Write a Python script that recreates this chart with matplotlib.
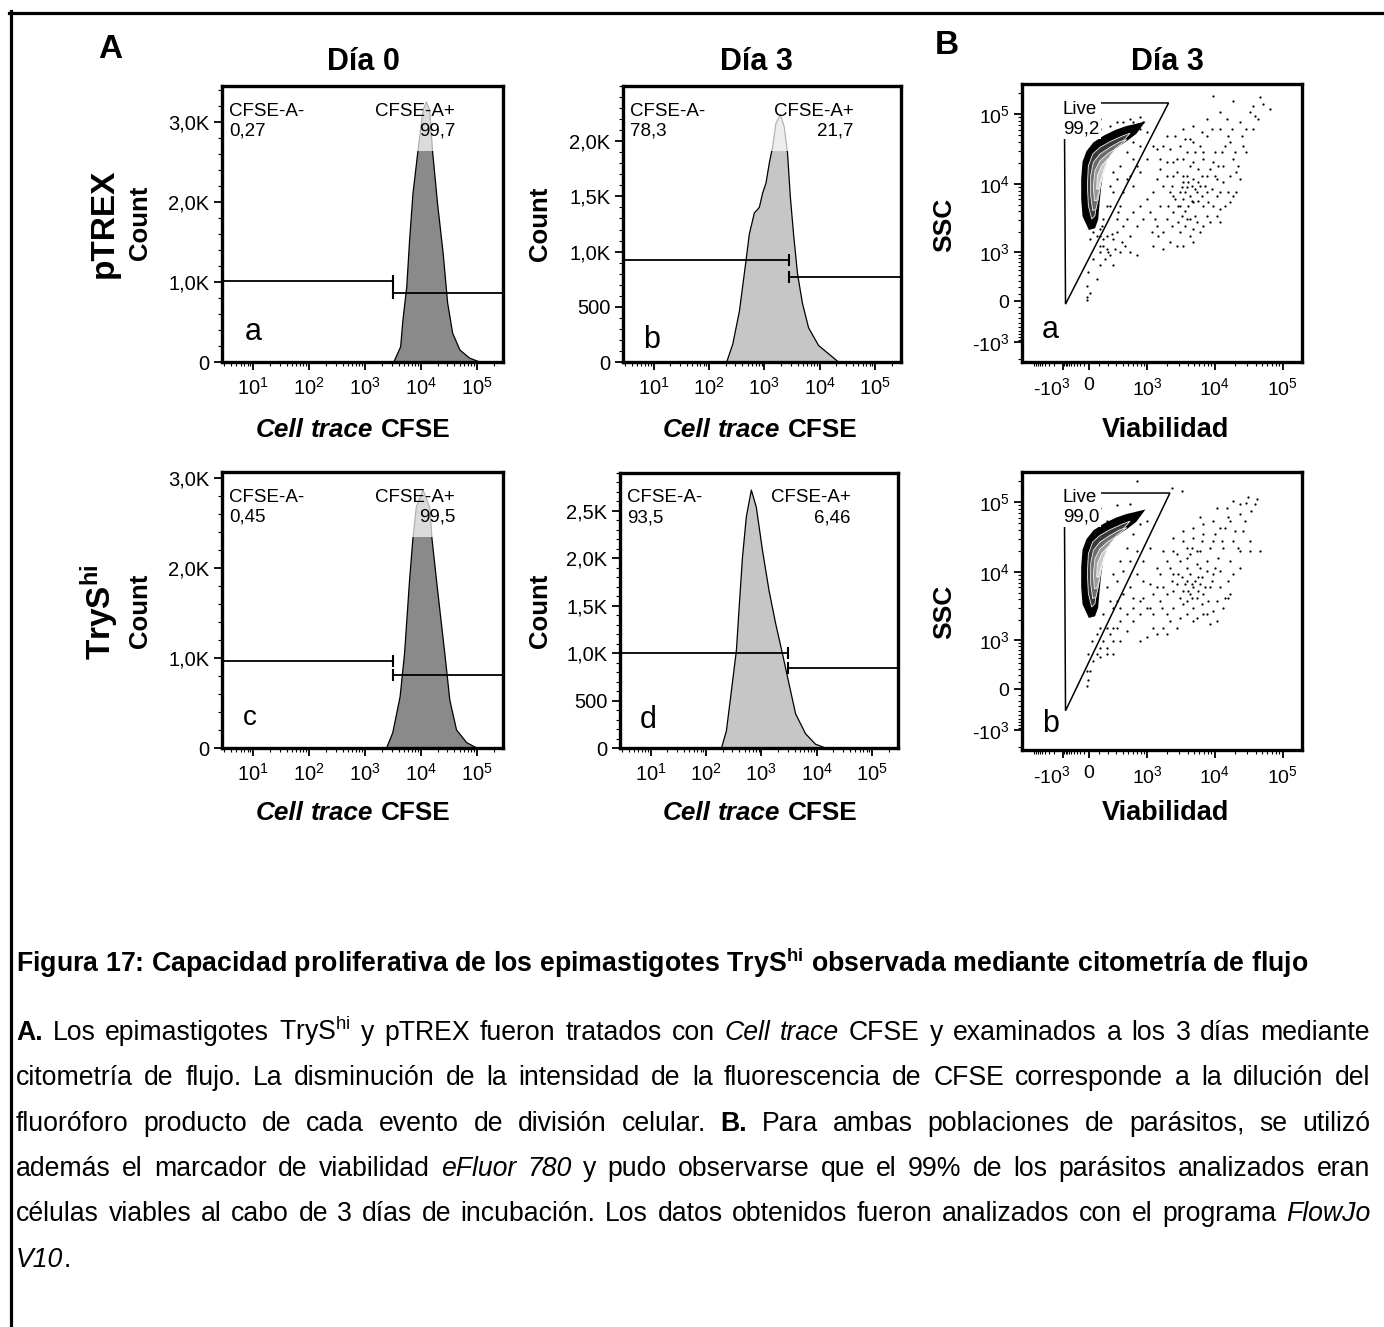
import re
import numpy as np
import matplotlib
matplotlib.use("Agg")
import matplotlib.pyplot as plt
import matplotlib.transforms as mtransforms
from matplotlib.patches import Rectangle, Polygon
from matplotlib.lines import Line2D
from matplotlib.ticker import FixedLocator, NullFormatter, LogLocator, MultipleLocator

plt.rcParams['font.family'] = ['Liberation Sans', 'DejaVu Sans']
plt.rcParams['mathtext.fontset'] = 'custom'
plt.rcParams['mathtext.rm'] = 'Liberation Sans'
plt.rcParams['mathtext.it'] = 'Liberation Sans:italic'
plt.rcParams['mathtext.bf'] = 'Liberation Sans:bold'

# ======================= DATA =======================
HIST_XLIM = (2.8, 2.95e5)
HIST_XTICKS = [1e1, 1e2, 1e3, 1e4, 1e5]
HIST_XTICKLABELS = [r'$10^{1}$', r'$10^{2}$', r'$10^{3}$', r'$10^{4}$', r'$10^{5}$']

# panel a: pTREX dia 0
cfse_a = [3300, 4370, 4790, 5620, 6310, 7240, 8910, 10960, 12590, 14450, 16220,
          19950, 25120, 30200, 37150, 50120, 74130, 112200]
count_a = [0, 190, 520, 940, 1520, 2100, 2640, 3150, 3250, 3150, 2640,
           1980, 1360, 740, 360, 150, 50, 0]
# panel b: pTREX dia 3
cfse_b = [209, 269, 355, 468, 537, 661, 813, 933, 1072, 1230, 1413, 1622, 1950,
          2291, 2630, 2950, 3390, 3981, 4898, 6310, 9550, 16600, 21880]
count_b = [0, 160, 460, 920, 1160, 1350, 1400, 1530, 1620, 1800, 1950, 2160, 2240,
           2130, 1890, 1500, 1150, 800, 530, 310, 150, 50, 0]
# panel c: TrySh dia 0
cfse_c = [2450, 3160, 4270, 5130, 6310, 7240, 8320, 10960, 14450, 15850, 19950,
          26920, 33110, 43650, 66070, 100000]
count_c = [0, 170, 570, 1050, 1870, 2330, 2680, 2870, 2680, 2330, 1760,
           1050, 530, 200, 60, 0]
# panel d: TrySh dia 3
cfse_d = [191, 234, 288, 355, 398, 457, 537, 661, 813, 1047, 1380, 1820, 2400,
          3160, 4170, 6310, 9550, 14450]
count_d = [0, 180, 600, 1030, 1480, 2010, 2440, 2720, 2540, 2090, 1660, 1310, 1000,
           680, 360, 150, 40, 0]

# gates: boundary, height of CFSE-A- gate, height of CFSE-A+ gate
gate_a = (3160, 1010, 860)
gate_b = (2820, 920, 770)
gate_c = (3160, 970, 810)
gate_d = (3020, 1000, 840)

pct_a = ("0,27", "99,7")
pct_b = ("78,3", "21,7")
pct_c = ("0,45", "99,5")
pct_d = ("93,5", "6,46")

yticks_a = [0, 1000, 2000, 3000]; ylab_a = ['0', '1,0K', '2,0K', '3,0K']
yticks_b = [0, 500, 1000, 1500, 2000]; ylab_b = ['0', '500', '1,0K', '1,5K', '2,0K']
yticks_d = [0, 500, 1000, 1500, 2000, 2500]; ylab_d = ['0', '500', '1,0K', '1,5K', '2,0K', '2,5K']

SC_XTICKS = [-1e3, 0, 1e3, 1e4, 1e5]
SC_XTICKLABELS = [r'-$10^{3}$', '0', r'$10^{3}$', r'$10^{4}$', r'$10^{5}$']
SC_YTICKS = [-1e3, 0, 1e3, 1e4, 1e5]
SC_YTICKLABELS = [r'-$10^{3}$', '0', r'$10^{3}$', r'$10^{4}$', r'$10^{5}$']

# density contour levels of the live population (viability, SSC)
lev0_x = [10, -95, -125, -125, -95, -14, 58, 163, 308, 472, 640, 778, 640, 472, 330, 230, 163, 119, 99, 82, 68, 42]
lev0_y = [2350, 3470, 6050, 11700, 20400, 28400, 37400, 46500, 56000, 63000, 67000, 70000, 55100, 45000, 37400, 30500, 21500, 14600, 9400, 5400, 3100, 2420]
lev1_x = [26, -14, -36, -14, 36, 109, 221, 385, 538, 413, 263, 174, 119, 92, 75, 58]
lev1_y = [3100, 4840, 9400, 18200, 26900, 33500, 40500, 48300, 53500, 41800, 33500, 24100, 15500, 9400, 5400, 3470]
lev2_x = [36, 16, 16, 42, 109, 221, 359, 472, 308, 213, 152, 119, 92, 68]
lev2_y = [4100, 6750, 13100, 20400, 26900, 33500, 40500, 43200, 33500, 25400, 17300, 10500, 6050, 4330]
lev3_x = [52, 42, 58, 109, 201, 308, 221, 163, 126, 99, 75]
lev3_y = [5720, 9400, 15500, 21500, 27500, 32400, 25400, 18200, 11700, 7560, 5720]
lev4_x = [75, 82, 126, 201, 152, 116, 92]
lev4_y = [8400, 13100, 18200, 23300, 16350, 11100, 8400]

# outlier events, panel B-a
dots_a_x = [3100, 3460, 3870, 4340, 4860, 3660, 4590, 5440, 4100, 3270, 5760, 4860, 3870, 6100, 4340, 2930, 5140, 6440, 3460, 5440,
            1570, 1970, 1760, 2200, 2480, 1970, 2770, 3870, 4860, 6820, 8540, 10700, 12000, 9560, 7640, 6100, 4340, 3100, 2480, 1400,
            1250, 1760, 2770, 7640, 10100, 13400, 16800, 15900, 14200, 10700, 6100, 4340, 3100, 2200, 1570, 1400, 1250, 1970, 2770, 7640,
            12000, 16800, 18800,
            9560, 18800, 33000, 36900, 46200, 65000, 23500, 29400, 15000, 7640, 4860, 26300, 21000, 12000, 18800, 3460, 1970, 1400,
            109, 145, 182, 221, 163, 263, 308, 359, 413, 472, 609, 778, 990, 538, 690, 878, 1120, 182, 109, 75,
            10, -50, -14, 42, 263, 359, 609, 778, 990, 1250, 109, 126, 538, 690, 308, 472, 609, 778, 990, 609,
            413, 221, 109,
            2340, 2620, 3270, 3660, 4100, 4590, 5140, 5760, 6440, 7230, 8080, 9050, 10100, 11300, 12700, 14200, 15900, 17800, 19900, 22300,
            24900, 29400, 36900, 43700, 52100, 39000, 12000, 9050, 6440, 4860, 3660, 2620, 1760, 1570, 1760, 2080, 2340, 2930, 3660, 4860,
            6820, 8540, 12000, 16800, 21000, 23500, 13400, 10700, 6820, 3870, 3100, 2480, 3460, 4340, 5760, 7640, 9560, 6820, 5140, 3460,
            2480, 1320, 1480, 1180, 2200, 3460, 4860,
            182, 145, 109, 75, 42, 10, 263, 308, 359, 472, 609, 778, 878, 263, 221, 413, 538, 690, 221, 335,
            109, 201, 285, 385, 440, 145, 240, -50, -36, 109, 308, 538, 778]
dots_a_y = [7560, 6050, 8900, 6750, 5400, 4100, 9400, 7560, 4840, 3470, 5720, 11700, 13100, 9400, 3100, 4840, 3470, 13100, 10500, 2780,
            4840, 3100, 1980, 7560, 13100, 20400, 22800, 28400, 20400, 22800, 16350, 11700, 7560, 4840, 3470, 1980, 1770, 1980, 3880, 2480,
            1257, 1120, 1257, 7560, 28400, 18200, 13100, 7560, 4840, 3470, 35400, 44200, 35400, 31700, 22800, 11700, 7560, 13100, 14600, 49300,
            61500, 39500, 22800,
            185000, 157000, 107000, 133000, 175000, 119000, 76700, 61500, 85600, 85600, 68600, 35400, 14600, 2780, 6750, 61500, 49300, 31700,
            1000, 1257, 1120, 890, 780, 1580, 1980, 1000, 2480, 3100, 3880, 4840, 6050, 1770, 2480, 3100, 3880, 1770, 605, 328,
            110, 10, 455, 780, 605, 4840, 9400, 14600, 22800, 35400, 1770, 2480, 1000, 890, 3100, 11700, 22800, 35400, 55100, 76700,
            76700, 68600, 61500,
            9400, 6050, 8900, 7560, 10500, 5720, 8400, 10500, 6750, 9400, 5400, 8400, 13100, 18200, 28400, 35400, 49300, 61500, 28400, 18200,
            49300, 28400, 61500, 85600, 140000, 96000, 107000, 61500, 55100, 39500, 44200, 49300, 35400, 16350, 9400, 4840, 2480, 2780, 2480, 2220,
            2480, 2780, 4330, 5400, 7560, 11700, 10500, 6750, 4840, 3100, 4840, 6750, 13100, 18200, 16350, 13100, 20400, 28400, 28400, 22800,
            20400, 3100, 1770, 1980, 1410, 1257, 1410,
            4840, 3100, 2220, 1770, 1980, 1580, 7560, 11700, 18200, 28400, 39500, 61500, 76700, 14600, 9400, 7560, 13100, 18200, 4840, 3880,
            1257, 1000, 1120, 1410, 1257, 1580, 1870, 218, 50, 85600, 76700, 85600, 90000]
# outlier events, panel B-b
dots_b_x = [2770, 3460, 3870, 4340, 4860, 3100, 5440, 6100, 4340, 3460, 4860, 6820, 2480, 3870, 5760, 3270, 4590, 6440,
            1570, 1250, 1970, 1760, 2200, 2770, 3870, 5440, 7640, 9560, 12000, 10700, 7640, 4860, 3100, 2480, 1400, 990, 1760, 878,
            1120, 1400, 1760, 2480, 3460, 4860, 6820, 9560, 13400, 16800, 15900, 14200, 9560, 6100, 8540, 2480, 1970, 3870,
            10700, 18800, 29400, 41400, 23500, 16800, 12000, 26300, 33000, 23500, 6100, 18800, 15900, 8540, 690, 2350, 3270,
            -36, -30, 10, 42, 75, 109, 145, 182, 221, 263, 308, 359, 472, 609, 778, 182, 109, 263, 359, 472,
            609, 778, 990, 538, 690, 878, 1120, 990, 609, 359, 182, 109, 308, 413,
            2340, 2930, 3660, 4100, 4590, 5140, 5760, 6440, 7230, 8080, 9050, 10100, 11300, 12700, 14200, 15900, 19900, 22300, 27800, 34900,
            39000, 31100, 23500, 15000, 9560, 6820, 4860, 3460, 2480, 1970, 1570, 1400, 1660, 2200, 2770, 3870, 5440, 6820, 10700, 13400,
            16800, 18800, 23500, 33000, 46200, 12000, 7640, 5440, 3870, 3100, 4340, 6100, 8540, 10100, 6440, 4590, 1250, 1120, 1250, 1970, 778,
            182, 263, 359, 472, 609, 778, 221, 145, 109, 75, 26, -14, -50, 308, 413, 538, 690, 263, 359, 182,
            263, 609, 878, 109, 308, 538]
dots_b_y = [6600, 5300, 7400, 4740, 5950, 4250, 4250, 6600, 9200, 3400, 3040, 4740, 5300, 3800, 8300, 8300, 6600, 3400,
            3800, 2420, 2420, 5950, 11500, 17900, 22300, 20000, 14300, 9200, 5950, 3800, 2420, 1940, 2170, 3040, 1230, 1100, 1550, 4250,
            6600, 11500, 20000, 31000, 38700, 43300, 34700, 27800, 22300, 14300, 7400, 4250, 2720, 11500, 5950, 9200, 4740, 16000,
            84000, 105000, 99000, 113000, 67000, 54000, 43300, 38700, 27800, 20000, 60500, 27800, 4250, 1740, 200000, 160000, 146000,
            40, 120, 260, 440, 590, 760, 980, 760, 1230, 980, 1550, 1940, 2420, 3040, 3800, 590, 520, 590, 980, 1390,
            1940, 2420, 3040, 5950, 9200, 14300, 22300, 54000, 60500, 54000, 54000, 43300, 3800, 4740,
            7400, 9200, 6600, 5300, 4250, 7400, 5300, 8300, 5950, 3800, 7400, 11500, 16000, 27800, 43300, 60500, 38700, 22300, 54000, 75000,
            94000, 119000, 94000, 84000, 54000, 48300, 31000, 27800, 20000, 14300, 9200, 5950, 3040, 1940, 1550, 2420, 2170, 2420, 1940, 3040,
            4740, 9200, 11500, 20000, 20000, 10300, 10300, 12800, 11500, 14300, 17900, 20000, 22300, 34700, 27800, 22300, 4740, 3040, 1550, 1230, 980,
            5950, 9200, 14300, 22300, 34700, 48300, 3800, 2420, 1550, 1230, 980, 590, 260, 7400, 10300, 14300, 20000, 3040, 3040, 1550,
            1550, 4250, 7400, 84000, 90000, 94000]

live_gate_a_x = [-820, -900, 2100]
live_gate_a_y = [-50, 145600, 145600]
live_gate_b_x = [-820, -900, 2200]
live_gate_b_y = [-400, 136000, 136000]
live_pct = ("99,2", "99,0")

CAPTION_TITLE = r"Figura 17: Capacidad proliferativa de los epimastigotes TryS$^{\mathbf{hi}}$ observada mediante citometría de flujo"
CAPTION_LINES = [
    r"**A.** Los epimastigotes TryS$^{\mathrm{hi}}$ y pTREX fueron tratados con *Cell* *trace* CFSE y examinados a los 3 días mediante",
    "citometría de flujo. La disminución de la intensidad de la fluorescencia de CFSE corresponde a la dilución del",
    "fluoróforo producto de cada evento de división celular. **B.** Para ambas poblaciones de parásitos, se utilizó",
    "además el marcador de viabilidad *eFluor* *780* y pudo observarse que el 99% de los parásitos analizados eran",
    "células viables al cabo de 3 días de incubación. Los datos obtenidos fueron analizados con el programa *FlowJo*",
    "*V10*.",
]

# ======================= FIGURE =======================
W, H = 1384, 1327
fig = plt.figure(figsize=(W / 100, H / 100), dpi=100)
renderer = fig.canvas.get_renderer()


def frect(x0, y0, x1, y1):
    return [x0 / W, 1 - y1 / H, (x1 - x0) / W, (y1 - y0) / H]


def style_kw(st):
    return {'n': dict(fontweight='normal', fontstyle='normal'),
            'b': dict(fontweight='bold', fontstyle='normal'),
            'i': dict(fontweight='normal', fontstyle='italic'),
            'bi': dict(fontweight='bold', fontstyle='italic')}[st]


def measure(text, size, st):
    t = fig.text(0, 0, text, fontsize=size, **style_kw(st))
    w = t.get_window_extent(renderer).width
    t.remove()
    return w


def space_width(size, st):
    return measure("a a", size, st) - measure("aa", size, st)


def put(x_px, y_px, text, size, st, **kw):
    return fig.text(x_px / W, 1 - y_px / H, text, fontsize=size, va='baseline', ha='left',
                    **style_kw(st), **kw)


def rich_centered(xc, yb, words, size):
    ws = [measure(t, size, s) for t, s in words]
    sp = space_width(size, 'b')
    total = sum(ws) + sp * (len(words) - 1)
    x = xc - total / 2
    for (t, s), w in zip(words, ws):
        put(x, yb, t, size, s)
        x += w + sp


def style_axes(ax, lsize=14.5):
    for s in ax.spines.values():
        s.set_linewidth(2.4)
        s.set_zorder(10)
    ax.tick_params(which='major', direction='out', length=6, width=1.3, labelsize=lsize, pad=3)
    ax.tick_params(which='minor', direction='out', length=3, width=0.8)


def hist_panel(r, cfse, counts, fill, ymax, yticks, ylabels, yminor, gate, pct, letter, lpos, overlay, lsize=22):
    ax = fig.add_axes(frect(*r))
    ax.set_xscale('log')
    ax.set_xlim(HIST_XLIM)
    ax.set_ylim(0, ymax)
    ax.fill_between(cfse, counts, 0, facecolor=fill, lw=0, zorder=2)
    ax.plot(cfse, counts, color='black', lw=0.9, zorder=2.5)
    x0, x1 = ax.get_xlim()
    gx, gneg, gpos = gate
    ax.plot([x0, gx], [gneg, gneg], color='k', lw=1.3, zorder=4, solid_capstyle='butt')
    ax.plot([gx], [gneg], marker='|', ms=8, mew=1.5, color='k', zorder=4)
    ax.plot([gx, x1], [gpos, gpos], color='k', lw=1.3, zorder=4, solid_capstyle='butt')
    ax.plot([gx], [gpos], marker='|', ms=8, mew=1.5, color='k', zorder=4)
    if overlay:
        ax.add_patch(Rectangle((0, 0.764), 1, 0.236, transform=ax.transAxes,
                               facecolor='white', alpha=0.7, lw=0, zorder=3))
    ax.text(0.025, 0.94, "CFSE-A-\n" + pct[0], transform=ax.transAxes, va='top', ha='left',
            fontsize=13.5, linespacing=1.22, zorder=5)
    ax.text(0.83, 0.94, "CFSE-A+\n" + pct[1], transform=ax.transAxes, va='top', ha='right',
            multialignment='right', fontsize=13.5, linespacing=1.22, zorder=5)
    ax.text(lpos[0], lpos[1], letter, transform=ax.transAxes, va='baseline', ha='left',
            fontsize=lsize, zorder=5)
    ax.xaxis.set_major_locator(FixedLocator(HIST_XTICKS))
    ax.set_xticklabels(HIST_XTICKLABELS)
    ax.xaxis.set_minor_locator(LogLocator(base=10, subs=np.arange(2, 10), numticks=20))
    ax.xaxis.set_minor_formatter(NullFormatter())
    ax.set_yticks(yticks)
    ax.set_yticklabels(ylabels)
    ax.yaxis.set_minor_locator(MultipleLocator(yminor))
    style_axes(ax)
    ax.tick_params(axis='x', which='major', pad=5)
    return ax


def biex(c, kneg):
    ln10 = np.log(10.0)

    def fwd(v):
        v = np.asarray(v, dtype=float)
        t = np.arcsinh(v / c) / ln10
        return np.where(v < 0, kneg * t, t)

    def inv(u):
        u = np.asarray(u, dtype=float)
        t = np.where(u < 0, u / kneg, u)
        return c * np.sinh(t * ln10)
    return fwd, inv


FX, IX = biex(286.0, 0.448)
FY, IY = biex(412.0, 0.837)
SC_MINOR = ([-k * 1000 for k in range(2, 10)] + [-k * 100 for k in range(1, 10)] +
            [k * 100 for k in range(1, 10)] + [k * 1000 for k in range(2, 10)] +
            [k * 10000 for k in range(2, 10)] + [200000])


def scatter_panel(r, dx, dy, gx, gy, pct, letter, lpos):
    ax = fig.add_axes(frect(*r))
    ax.set_xscale('function', functions=(FX, IX))
    ax.set_yscale('function', functions=(FY, IY))
    ax.set_xlim(float(IX(-0.985)), float(IX(3.13)))
    ax.set_ylim(float(IY(-0.877)), float(IY(3.122)))
    ax.scatter(dx, dy, s=2.6, c='k', lw=0, zorder=2)
    levels = [(lev0_x, lev0_y, '#000000', '#000000', 3.2),
              (lev1_x, lev1_y, '#3a3a3a', '#f0f0f0', 0.6),
              (lev2_x, lev2_y, '#6c6c6c', '#f0f0f0', 0.6),
              (lev3_x, lev3_y, '#9a9a9a', '#f4f4f4', 0.6),
              (lev4_x, lev4_y, '#c8c8c8', '#ffffff', 0.6)]
    for lx, ly, fc, ec, lw in levels:
        ax.fill(lx, ly, facecolor=fc, edgecolor=ec, lw=lw, zorder=3)
    ax.add_patch(Polygon(np.column_stack([gx, gy]), closed=True, fill=False,
                         edgecolor='k', lw=1.1, zorder=4))
    ax.text(0.146, 0.94, "Live\n" + pct, transform=ax.transAxes, va='top', ha='left',
            fontsize=13.5, linespacing=1.22, zorder=5,
            bbox=dict(facecolor='white', edgecolor='none', pad=1.2))
    ax.text(lpos[0], lpos[1], letter, transform=ax.transAxes, va='baseline', ha='left',
            fontsize=22, zorder=5)
    ax.xaxis.set_major_locator(FixedLocator(SC_XTICKS))
    ax.set_xticklabels(SC_XTICKLABELS)
    ax.yaxis.set_major_locator(FixedLocator(SC_YTICKS))
    ax.set_yticklabels(SC_YTICKLABELS)
    ax.xaxis.set_minor_locator(FixedLocator(SC_MINOR))
    ax.yaxis.set_minor_locator(FixedLocator(SC_MINOR))
    ax.xaxis.set_minor_formatter(NullFormatter())
    ax.yaxis.set_minor_formatter(NullFormatter())
    style_axes(ax, lsize=14)
    ax.tick_params(axis='x', which='major', pad=5)
    lbl = ax.get_xticklabels()[0]
    lbl.set_horizontalalignment('right')
    lbl.set_transform(lbl.get_transform() +
                      mtransforms.ScaledTranslation(0.07, 0, fig.dpi_scale_trans))
    return ax


DARK, LIGHT = '#8a8a8a', '#c6c6c6'
hist_panel((222, 86, 503, 362), cfse_a, count_a, DARK, 3450, yticks_a, ylab_a, 200, gate_a, pct_a, 'a', (0.082, 0.08), True)
hist_panel((623, 86, 901, 362), cfse_b, count_b, LIGHT, 2500, yticks_b, ylab_b, 100, gate_b, pct_b, 'b', (0.072, 0.05), True)
hist_panel((222, 472, 503, 748), cfse_c, count_c, DARK, 3070, yticks_a, ylab_a, 200, gate_c, pct_c, 'c', (0.076, 0.083), True, lsize=20)
hist_panel((620, 473, 898, 748), cfse_d, count_d, LIGHT, 2900, yticks_d, ylab_d, 100, gate_d, pct_d, 'd', (0.072, 0.073), False)
scatter_panel((1022, 84, 1302, 362), dots_a_x, dots_a_y, live_gate_a_x, live_gate_a_y, live_pct[0], 'a', (0.071, 0.086))
scatter_panel((1022, 472, 1302, 750), dots_b_x, dots_b_y, live_gate_b_x, live_gate_b_y, live_pct[1], 'b', (0.071, 0.065))

# ---- titles, letters, axis labels ----
for txt, xc in [("Día 0", 363), ("Día 3", 756), ("Día 3", 1167)]:
    fig.text(xc / W, 1 - 70 / H, txt, fontsize=22, fontweight='bold', ha='center', va='baseline')
put(98, 58, "A", 24, 'b')
put(935, 54, "B", 24, 'b')

fig.text(104 / W, 1 - 223 / H, "pTREX", fontsize=24, fontweight='bold', rotation=90, ha='center', va='center')
fig.text(100 / W, 1 - 612 / H, r"TryS$^{\mathbf{hi}}$", fontsize=24, fontweight='bold', rotation=90, ha='center', va='center')
for xc, yc in [(140, 223), (540, 224), (140, 611), (540, 611)]:
    fig.text(xc / W, 1 - yc / H, "Count", fontsize=18.5, fontweight='bold', rotation=90, ha='center', va='center')
for yc in (225, 612):
    fig.text(944 / W, 1 - yc / H, "SSC", fontsize=19, fontweight='bold', rotation=90, ha='center', va='center')

for xc, yb in [(353, 437), (760, 437), (353, 820), (760, 820)]:
    rich_centered(xc, yb, [("Cell", 'bi'), ("trace", 'bi'), ("CFSE", 'b')], 18.8)
for yb in (437, 820):
    fig.text(1165 / W, 1 - yb / H, "Viabilidad", fontsize=19.5, fontweight='bold', ha='center', va='baseline')

# ---- caption ----
TX0, TX1 = 16, 1370
size_t = 16.0
wt = measure(CAPTION_TITLE, size_t, 'b')
size_t = size_t * (1292 / wt)
put(TX0, 972, CAPTION_TITLE, size_t, 'b')


def parse_word(tok):
    runs = []
    for m in re.finditer(r'\*\*(.+?)\*\*|\*(.+?)\*|([^*]+)', tok):
        if m.group(1):
            runs.append((m.group(1), 'b'))
        elif m.group(2):
            runs.append((m.group(2), 'i'))
        else:
            runs.append((m.group(3), 'n'))
    return runs


lines = [[parse_word(t) for t in ln.split(' ')] for ln in CAPTION_LINES]
base = 15.0
nat = []
for ln in lines[:-1]:
    tot = sum(measure(t, base, s) for w in ln for t, s in w) + space_width(base, 'n') * (len(ln) - 1)
    nat.append(tot)
size_b = base * (0.975 * (TX1 - TX0) / max(nat))

baselines = [1040, 1085, 1131, 1176, 1221, 1267]
for i, (ln, yb) in enumerate(zip(lines, baselines)):
    wws = [[measure(t, size_b, s) for t, s in w] for w in ln]
    tot = sum(sum(x) for x in wws)
    if i < len(lines) - 1 and len(ln) > 1:
        gap = (TX1 - TX0 - tot) / (len(ln) - 1)
    else:
        gap = space_width(size_b, 'n')
    x = TX0
    for w, ww in zip(ln, wws):
        for (t, s), wr in zip(w, ww):
            put(x, yb, t, size_b, s)
            x += wr
        x += gap

# ---- outer frame ----
fig.add_artist(Line2D([9 / W, 1.0], [1 - 12.5 / H] * 2, transform=fig.transFigure, color='k', lw=2.3))
fig.add_artist(Line2D([11 / W] * 2, [1 - 11 / H, 0.0], transform=fig.transFigure, color='k', lw=2.3))

fig.savefig("out.png", dpi=100)
